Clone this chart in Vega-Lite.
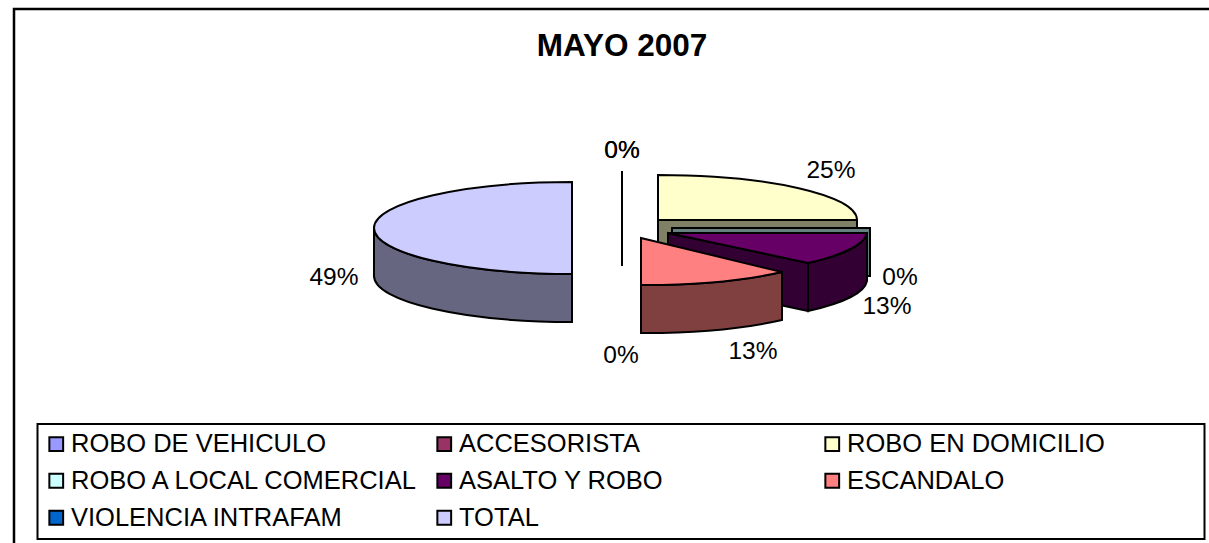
{
  "$schema": "https://vega.github.io/schema/vega-lite/v6.json",
  "width": 1200,
  "height": 540,
  "padding": {"left": 14, "top": 9, "right": -5, "bottom": -6},
  "autosize": {"type": "none"},
  "background": "white",
  "view": {"stroke": "black", "strokeWidth": 2.5, "fill": "white"},
  "config": {"legend": {"strokeWidth": 2}},
  "title": {"text": "MAYO 2007", "font": "Liberation Sans", "fontSize": 31.5, "fontWeight": "bold", "color": "black", "anchor": "middle", "frame": "group", "dx": 8, "dy": 85, "offset": 0, "baseline": "bottom"},
  "data": {"values": [
    {"categoria": "ROBO DE VEHICULO", "porcentaje": 0},
    {"categoria": "ACCESORISTA", "porcentaje": 0},
    {"categoria": "ROBO EN DOMICILIO", "porcentaje": 0.25},
    {"categoria": "ROBO A LOCAL COMERCIAL", "porcentaje": 0},
    {"categoria": "ASALTO Y ROBO", "porcentaje": 0.13},
    {"categoria": "ESCANDALO", "porcentaje": 0.13},
    {"categoria": "VIOLENCIA INTRAFAM", "porcentaje": 0},
    {"categoria": "TOTAL", "porcentaje": 0.49}
  ]},
  "layer": [
    {
      "mark": {"type": "point", "filled": true, "size": 4, "opacity": 1, "stroke": "black", "strokeWidth": 2},
      "encoding": {
        "shape": {"field": "categoria", "type": "nominal", "legend": null, "scale": {
          "domain": ["ROBO DE VEHICULO", "ACCESORISTA", "ROBO EN DOMICILIO", "ROBO A LOCAL COMERCIAL", "ASALTO Y ROBO", "ESCANDALO", "VIOLENCIA INTRAFAM", "TOTAL"],
          "range": [
            "M8,-108 L8,-13",
            "M27,6 L27,6",
            "M44,-59 L243,-59 L243,-11 L44,-11 Z",
            "M58,-51 L256,-51 L256,-3 L58,-3 Z",
            "M54,-46 L194,-16 L194,32 L54,2 Z M253,-46 A199,45 0 0 1 194,-16 L194,32 A199,45 0 0 0 253,2 Z",
            "M27,6 A199,47 0 0 0 168,-7 L168,41 A199,47 0 0 1 27,54 Z",
            "M8,-108 L8,-13",
            "M-240,-51 A198,46 0 0 0 -42,-5 L-42,43 A198,46 0 0 1 -240,-3 Z"
          ]}},
        "fill": {"field": "categoria", "type": "nominal", "legend": null, "scale": {
          "domain": ["TOTAL", "ROBO DE VEHICULO", "ACCESORISTA", "ROBO EN DOMICILIO", "ROBO A LOCAL COMERCIAL", "ASALTO Y ROBO", "ESCANDALO", "VIOLENCIA INTRAFAM"],
          "range": ["#666680", "#4D4D80", "#4D1A33", "#808066", "#668080", "#330033", "#804040", "#003366"]}}
      }
    },
    {
      "mark": {"type": "point", "filled": true, "size": 4, "opacity": 1, "stroke": "black", "strokeWidth": 2},
      "encoding": {
        "shape": {"field": "categoria", "type": "nominal", "legend": null, "scale": {
          "domain": ["TOTAL", "VIOLENCIA INTRAFAM", "ESCANDALO", "ASALTO Y ROBO", "ROBO A LOCAL COMERCIAL", "ROBO EN DOMICILIO", "ACCESORISTA", "ROBO DE VEHICULO"],
          "range": [
            "M-42,-97 A198,46 0 0 0 -240,-51 A198,46 0 0 0 -42,-5 Z",
            "M8,-108 L8,-108",
            "M27,-41 L168,-7 A199,47 0 0 1 27,6 Z",
            "M54,-46 L253,-46 A199,45 0 0 1 194,-16 Z",
            "M58,-51 L256,-51",
            "M44,-104 A199,45 0 0 1 243,-59 L44,-59 Z",
            "M27,6 L27,6",
            "M8,-108 L8,-108"
          ]}},
        "fill": {"field": "categoria", "type": "nominal", "scale": {
          "domain": ["ROBO DE VEHICULO", "ACCESORISTA", "ROBO EN DOMICILIO", "ROBO A LOCAL COMERCIAL", "ASALTO Y ROBO", "ESCANDALO", "VIOLENCIA INTRAFAM", "TOTAL"],
          "range": ["#9999FF", "#993366", "#FFFFCC", "#CCFFFF", "#660066", "#FF8080", "#0066CC", "#CCCCFF"]},
          "legend": {"title": null, "orient": "none", "legendX": 23.5, "legendY": 415, "direction": "horizontal", "columns": 3, "gridAlign": "all", "symbolType": "square", "symbolSize": 190, "symbolStrokeColor": "black", "symbolStrokeWidth": 2, "symbolOpacity": 1, "labelFont": "Liberation Sans", "labelFontSize": 25.5, "labelColor": "black", "labelLimit": 400, "labelOffset": 2, "columnPadding": 11, "rowPadding": 10, "padding": 7, "strokeColor": "black", "fillColor": "white", "symbolOffset": -1,
            "labelExpr": "datum.label === 'ROBO EN DOMICILIO' ? datum.label + '\u00a0\u00a0\u00a0\u00a0\u00a0\u00a0\u00a0\u00a0\u00a0\u00a0\u00a0\u00a0\u00a0\u200b' : datum.label"}}
      }
    },
    {
      "mark": {"type": "text", "font": "Liberation Sans", "fontSize": 24.5, "color": "black", "align": "center", "baseline": "middle",
        "dx": {"expr": "{'ROBO DE VEHICULO':8,'ACCESORISTA':7,'ROBO EN DOMICILIO':217,'ROBO A LOCAL COMERCIAL':286,'ASALTO Y ROBO':273,'ESCANDALO':139,'VIOLENCIA INTRAFAM':8,'TOTAL':-280}[datum.categoria]"},
        "dy": {"expr": "{'ROBO DE VEHICULO':-128,'ACCESORISTA':77,'ROBO EN DOMICILIO':-108,'ROBO A LOCAL COMERCIAL':-1,'ASALTO Y ROBO':28,'ESCANDALO':73,'VIOLENCIA INTRAFAM':-128,'TOTAL':-1}[datum.categoria]"}},
      "encoding": {
        "text": {"field": "porcentaje", "type": "quantitative", "format": ".0%"}
      }
    }
  ],
  "resolve": {"scale": {"fill": "independent", "shape": "independent"}, "legend": {"fill": "independent", "shape": "independent"}}
}
